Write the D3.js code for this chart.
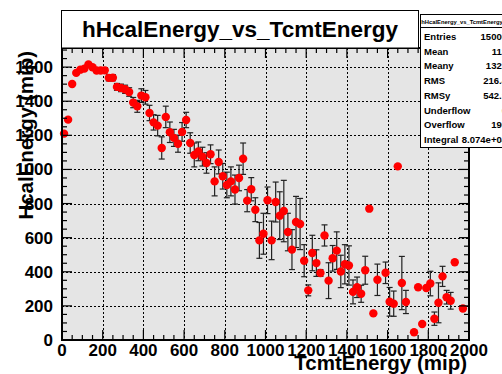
<!DOCTYPE html>
<html><head><meta charset="utf-8">
<script src="https://cdn.jsdelivr.net/npm/d3@7"></script>
<style>
body{margin:0;background:#fff}
svg{display:block}
text{font-family:"Liberation Sans",Arial,Helvetica,sans-serif;font-weight:bold;fill:#000}
</style>
</head><body>
<svg id="c" width="502" height="374"></svg>
<script>
// ---- data (profile: bin centre in TcmtEnergy, mean HcalEnergy, error) ----
const tcmt = [10,30,50,70,90,110,130,150,170,190,210,230,250,270,290,310,330,350,370,390,
  410,430,450,470,490,510,530,550,570,590,610,630,650,670,690,710,730,750,770,790,
  810,830,850,870,890,910,930,950,970,990,1010,1030,1050,1070,1090,1110,1130,1150,1170,1190,
  1210,1230,1250,1270,1290,1310,1330,1350,1370,1390,1410,1430,1450,1470,1490,1510,1530,1550,1590,1610,
  1630,1650,1670,1690,1730,1750,1770,1790,1810,1830,1850,1870,1890,1910,1930,1970];
const hcal = [1210,1292,1501,1566,1585,1591,1616,1599,1580,1580,1581,1537,1538,1484,1478,1470,1454,1392,1370,1433,
  1423,1331,1276,1257,1126,1308,1218,1185,1151,1220,1290,1155,1085,1106,1075,1038,1089,930,1044,960,
  909,930,882,950,1063,817,884,764,584,623,819,584,809,729,756,633,530,692,680,465,
  291,510,451,393,613,348,479,524,402,444,437,282,309,271,409,770,156,353,394,224,
  213,1018,334,223,45,309,94,305,331,125,218,373,251,230,456,185];
const hcalErr = [5,6,8,8,8,8,10,10,12,15,15,18,18,20,22,24,25,30,35,40,
  40,45,45,60,65,63,60,50,50,55,45,60,70,55,55,60,55,85,70,75,
  75,85,85,75,92,65,68,70,105,120,78,113,117,140,180,110,117,150,150,94,
  32,104,78,20,62,105,75,110,95,115,115,70,60,50,82,0,0,92,63,84,
  74,0,156,68,0,0,0,0,72,39,117,59,40,49,0,0];
const xTicks = [0,200,400,600,800,1000,1200,1400,1600,1800,2000];
const yTicks = [0,200,400,600,800,1000,1200,1400,1600];
const statLabels = ["Entries","Mean","Meany","RMS","RMSy","Underflow","Overflow","Integral"];
const statValues = ["15000","113","1321","216.4","542.1","0","190","8.074e+04"];
const histName = "hHcalEnergy_vs_TcmtEnergy";
const xTitle = "TcmtEnergy (mip)";
const yTitle = "HcalEnergy (mip)";

// ---- layout ----
const L = 62, R = 469, T = 48, B = 340;
const svg = d3.select("#c");
const x = d3.scaleLinear().domain([0, 2000]).range([L, R]);
const y = d3.scaleLinear().domain([0, 1712]).range([B, T]);

// frame
svg.append("rect").attr("x", L).attr("y", T).attr("width", R - L).attr("height", B - T)
  .attr("fill", "#e5e5e5");

// grid
const g = svg.append("g").attr("stroke", "#000").attr("stroke-width", 1).attr("stroke-dasharray", "2,2");
xTicks.filter(v => v > 0 && v < 2000).forEach(v => {
  g.append("line").attr("x1", Math.round(x(v)) + 0.5).attr("x2", Math.round(x(v)) + 0.5)
    .attr("y1", T).attr("y2", B);
});
yTicks.filter(v => v > 0).forEach(v => {
  g.append("line").attr("y1", Math.round(y(v)) + 0.5).attr("y2", Math.round(y(v)) + 0.5)
    .attr("x1", L).attr("x2", R);
});

// error bars
const eb = svg.append("g").attr("stroke", "#222").attr("stroke-width", 1.2);
tcmt.forEach((t, i) => {
  const e = hcalErr[i];
  if (!e) return;
  const cx = x(t), y1 = y(hcal[i] + e), y2 = y(hcal[i] - e);
  eb.append("line").attr("x1", cx).attr("x2", cx).attr("y1", y1).attr("y2", y2);
  eb.append("line").attr("x1", cx - 3).attr("x2", cx + 3).attr("y1", y1).attr("y2", y1);
  eb.append("line").attr("x1", cx - 3).attr("x2", cx + 3).attr("y1", y2).attr("y2", y2);
});

// markers
svg.append("g").selectAll("circle").data(tcmt).join("circle")
  .attr("cx", d => x(d)).attr("cy", (d, i) => y(hcal[i])).attr("r", 4.2)
  .attr("fill", "#ff0000");

// frame border
svg.append("rect").attr("x", L).attr("y", T).attr("width", R - L).attr("height", B - T)
  .attr("fill", "none").attr("stroke", "#000").attr("stroke-width", 2);

// ticks
const tk = svg.append("g").attr("stroke", "#000").attr("stroke-width", 1.2);
d3.range(0, 2001, 50).forEach(v => {
  const len = v % 200 === 0 ? 10 : 5;
  const px = x(v);
  tk.append("line").attr("x1", px).attr("x2", px).attr("y1", B).attr("y2", B - len);
  tk.append("line").attr("x1", px).attr("x2", px).attr("y1", T).attr("y2", T + len);
});
d3.range(0, 1701, 50).forEach(v => {
  const len = v % 200 === 0 ? 10 : 5;
  const py = y(v);
  tk.append("line").attr("y1", py).attr("y2", py).attr("x1", L).attr("x2", L + len);
  tk.append("line").attr("y1", py).attr("y2", py).attr("x1", R).attr("x2", R - len);
});

// tick labels
svg.append("g").selectAll("text").data(xTicks).join("text")
  .attr("x", d => x(d)).attr("y", 356).attr("text-anchor", "middle")
  .attr("font-size", 17).text(d => d);
svg.append("g").selectAll("text").data(yTicks).join("text")
  .attr("x", 53).attr("y", d => y(d) + 6).attr("text-anchor", "end")
  .attr("font-size", 17).text(d => d);

// axis titles
svg.append("text").attr("x", 467).attr("y", 370).attr("text-anchor", "end")
  .attr("font-size", 20.5).text(xTitle);
svg.append("text").attr("transform", "translate(33,51) rotate(-90)").attr("text-anchor", "end")
  .attr("font-size", 20.5).text(yTitle);

// title box
svg.append("rect").attr("x", 61.5).attr("y", 10.5).attr("width", 357).attr("height", 37.5)
  .attr("fill", "#fff").attr("stroke", "#000").attr("stroke-width", 1);
svg.append("text").attr("x", 240).attr("y", 37).attr("text-anchor", "middle")
  .attr("font-size", 22.5).text(histName);

// stats box
svg.append("rect").attr("x", 420.5).attr("y", 14.5).attr("width", 100).attr("height", 133)
  .attr("fill", "#fff").attr("stroke", "#000").attr("stroke-width", 1);
svg.append("line").attr("x1", 420.5).attr("x2", 502).attr("y1", 27.5).attr("y2", 27.5)
  .attr("stroke", "#000").attr("stroke-width", 1);
svg.append("text").attr("x", 462).attr("y", 23.5).attr("text-anchor", "middle")
  .attr("font-size", 5.8).attr("font-weight", "normal").text(histName);
statLabels.forEach((s, i) => {
  const yy = 40 + i * 14.7;
  svg.append("text").attr("x", 424).attr("y", yy).attr("font-size", 9.5).text(s);
  svg.append("text").attr("x", 507).attr("y", yy).attr("text-anchor", "end")
    .attr("font-size", 9.5).text(statValues[i]);
});
</script>
</body></html>
